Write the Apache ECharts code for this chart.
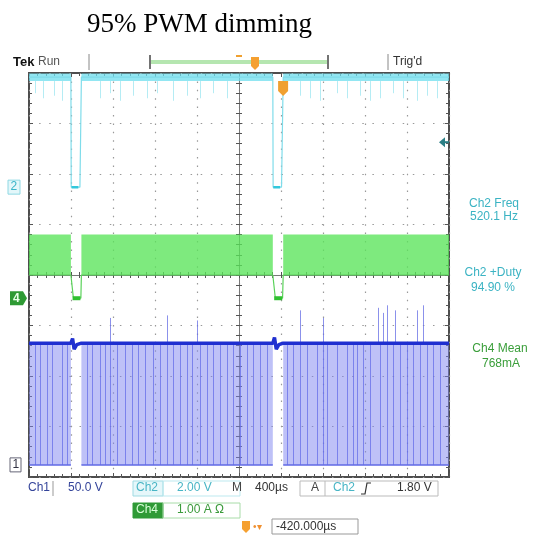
<!DOCTYPE html>
<html><head><meta charset="utf-8">
<script src="https://cdn.jsdelivr.net/npm/echarts@6/dist/echarts.min.js"></script>
<style>html,body{margin:0;padding:0;background:#fff}#c{width:536px;height:535px}</style>
</head><body><div id="c"></div>
<script>
// ---------- data (time in µs from screen centre, levels in divisions) ----------
const xRange = [-2000, 2000];          // 10 div x 400 µs
const yRange = [-4, 4];                // 8 divisions
const onIntervals = [[-2000, -1601], [-1501, 322], [421, 2000]]; // PWM on (gaps = off time)

// Ch2 (cyan) gate signal
const ch2Levels = [3.99, 3.84];        // top band
const ch2Trace = [[-2000,3.92],[-1601,3.92],[-1598,1.74],[-1515,1.74],[-1501,3.92],[322,3.92],[325,1.74],[405,1.74],[421,3.92],[2000,3.92]];
const ch2LowSegments = [[-1595,-1530],[326,392]];
const ch2StreakTimes = [-1943,-1860,-1760,-1680,-1324,-1229,-1133,-1010,-876,-781,-629,-495,-371,-248,-114,581,676,771,933,1029,1152,1248,1343,1467,1562,1695,1790,1886];
const ch2StreakBottoms = [3.6,3.5,3.55,3.45,3.5,3.6,3.45,3.55,3.5,3.6,3.45,3.55,3.5,3.6,3.5,3.55,3.5,3.45,3.6,3.5,3.55,3.45,3.5,3.6,3.5,3.45,3.55,3.5];

// Ch4 (green) current
const ch4Levels = [0.80, 0.0];
const ch4Trace = [[-2000,0],[-1601,0],[-1578,-0.44],[-1506,-0.46],[-1501,0],[322,0],[345,-0.44],[415,-0.46],[421,0],[2000,0]];
const ch4LowSegments = [[-1585,-1510],[335,412]];

// Ch1 (blue) switching node
const ch1Levels = [-1.35, -3.76];
const ch1Trace = [[-2000,-1.35],[-1601,-1.35],[-1585,-1.26],[-1570,-1.47],[-1545,-1.38],[-1501,-1.35],[322,-1.35],[338,-1.24],[355,-1.47],[380,-1.38],[421,-1.35],[2000,-1.35]];
const ch1Edges = [-1943,-1895,-1829,-1781,-1686,-1638,-1448,-1400,-1324,-1276,-1229,-1162,-1086,-1019,-962,-895,-819,-752,-686,-629,-562,-495,-448,-371,-305,-248,-181,-114,-57,10,76,133,200,267,457,514,581,648,743,800,838,933,1029,1086,1124,1181,1248,1343,1410,1467,1533,1600,1657,1724,1790,1848,1914];
const ch1SpikeTimes = [-1229,-686,-400,581,800,1324,1371,1410,1486,1695,1752];
const ch1SpikeTops  = [-0.85,-0.8,-0.9,-0.7,-0.85,-0.65,-0.75,-0.6,-0.7,-0.7,-0.6];

// markers
const trigTime = 420, trigLevel = 2.63;
const groundLevels = {ch2: 1.74, ch4: -0.46, ch1: -3.76};

// readouts
const measLabels = [['Ch2 Freq','520.1 Hz'],['Ch2 +Duty','94.90 %'],['Ch4 Mean','768mA']];

// ---------- chart ----------
const chart = echarts.init(document.getElementById('c'), null, {renderer:'canvas'});
const FONT = '"Liberation Sans", Arial, sans-serif';

function axis(extra, isX) {
  const base = {type:'value', min: isX ? xRange[0] : yRange[0], max: isX ? xRange[1] : yRange[1],
    interval: isX ? 400 : 1, axisLabel:{show:false}, splitLine:{show:false},
    axisLine:{show:false, onZero:false},
    axisTick:{show:true, inside:true, length:4, lineStyle:{color:'#555'}},
    minorTick:{show:true, splitNumber:5, length:3, lineStyle:{color:'#555'}}};
  return Object.assign(base, extra);
}
const xAxes = [
  axis({position:'bottom', splitLine:{show:true, lineStyle:{color:'#999', width:1.2, type:[1.5,6.9]}}}, true),
  axis({position:'top'}, true),
  axis({position:'bottom', axisLine:{show:true, onZero:true, lineStyle:{color:'#777', width:1}}, axisTick:{show:true, inside:true, length:3, lineStyle:{color:'#555'}}}, true),
  axis({position:'top', axisLine:{show:true, onZero:true, lineStyle:{color:'#777', width:1}}, axisTick:{show:true, inside:true, length:3, lineStyle:{color:'#555'}}}, true)
];
const yAxes = [
  axis({position:'left', splitLine:{show:true, lineStyle:{color:'#999', width:1.2, type:[1.5,8.6]}}}, false),
  axis({position:'right'}, false),
  axis({position:'left', axisLine:{show:true, onZero:true, lineStyle:{color:'#777', width:1}}, axisTick:{show:true, inside:true, length:3, lineStyle:{color:'#555'}}}, false),
  axis({position:'right', axisLine:{show:true, onZero:true, lineStyle:{color:'#777', width:1}}, axisTick:{show:true, inside:true, length:3, lineStyle:{color:'#555'}}}, false)
];

const series = [];
function lineS(data, color, width, z, extra) {
  series.push(Object.assign({type:'line', xAxisIndex:0, yAxisIndex:0, data, symbol:'none', showSymbol:false,
    silent:true, animation:false, z, lineStyle:{color, width}}, extra||{}));
}
function bandS(top, bottom, fill, z) {
  onIntervals.forEach(iv => {
    lineS([[iv[0], top], [iv[1], top]], fill, 0, z, {areaStyle:{color:fill, origin:bottom, opacity:1}});
  });
}
function vlines(times, lows, highs, color, width, z) {
  series.push({type:'lines', coordinateSystem:'cartesian2d', xAxisIndex:0, yAxisIndex:0, silent:true, animation:false, z,
    lineStyle:{color, width, opacity:1},
    data: times.map((t,i) => ({coords:[[t, Array.isArray(lows)?lows[i]:lows],[t, Array.isArray(highs)?highs[i]:highs]]}))});
}

// Ch1 blue
bandS(ch1Levels[0], ch1Levels[1], 'rgba(125,132,240,0.5)', 2);
vlines(ch1Edges, ch1Levels[1], ch1Levels[0], 'rgba(100,108,232,0.75)', 1, 3);
vlines(ch1SpikeTimes, ch1Levels[0], ch1SpikeTops, 'rgba(110,118,230,0.8)', 1, 3);
onIntervals.forEach(iv => lineS([[iv[0], ch1Levels[1]], [iv[1], ch1Levels[1]]], '#5f68e4', 1.5, 4));
lineS(ch1Trace, '#1f2fd0', 3.5, 5);

// Ch4 green
bandS(ch4Levels[0], ch4Levels[1], 'rgba(90,228,90,0.78)', 2);
lineS(ch4Trace, '#5ad25a', 1.2, 5);
ch4LowSegments.forEach(s => lineS([[s[0], groundLevels.ch4], [s[1], groundLevels.ch4]], '#30c030', 4, 6));

// Ch2 cyan
vlines(ch2StreakTimes, ch2StreakBottoms, ch2Levels[1], 'rgba(120,220,235,0.55)', 1, 3);
bandS(ch2Levels[0], ch2Levels[1], 'rgba(110,222,238,0.75)', 4);
lineS(ch2Trace, '#7fdcea', 1.2, 5);
ch2LowSegments.forEach(s => lineS([[s[0], groundLevels.ch2], [s[1], groundLevels.ch2]], '#33c8dc', 2.5, 6));

chart.setOption({
  animation:false,
  backgroundColor:'#fff',
  grid:{left:29, top:73, width:420, height:404, show:true, borderColor:'#4d4d4d', borderWidth:2, backgroundColor:'#fff'},
  xAxis: xAxes,
  yAxis: yAxes,
  series
});

// ---------- annotations ----------
const g = [];
function T(text, x, y, color, size, extra) {
  g.push({type:'text', silent:true, z:100, style:Object.assign({text, x, y, fill:color,
    font:(size||12)+'px '+FONT, verticalAlign:'middle', align:'left'}, extra||{})});
}
function L(x1,y1,x2,y2,color,w){ g.push({type:'line', silent:true, z:100, shape:{x1,y1,x2,y2}, style:{stroke:color, lineWidth:w||1}}); }
function R(x,y,w,h,fill,stroke){ g.push({type:'rect', silent:true, z:99, shape:{x,y,width:w,height:h}, style:{fill:fill||'none', stroke:stroke||'none', lineWidth:1}}); }
function P(points, fill){ g.push({type:'polygon', silent:true, z:100, shape:{points}, style:{fill}}); }
function PL(points, color, w){ g.push({type:'polyline', silent:true, z:100, shape:{points}, style:{stroke:color, lineWidth:w||1, fill:'none'}}); }
const px = (t, v) => chart.convertToPixel({gridIndex:0}, [t, v]);

// title
T('95% PWM dimming', 87, 25, '#000', 27, {font:'27px "Liberation Serif", "Times New Roman", serif'});

// top status bar
T('Tek', 13, 62, '#111', 13, {font:'bold 13px '+FONT});
T('Run', 38, 62, '#555', 12);
L(89,54,89,70,'#888');
L(150,55,150,69,'#444',1.5);
R(151,60,176,4,'#b5e6b0');
L(328,55,328,69,'#444',1.5);
L(236,56,242,56,'#f0a030',2);
P([[251,57],[259,57],[259,66],[255,70],[251,66]], '#f5a030');
L(388,54,388,70,'#888');
T("Trig'd", 393, 62, '#333', 12);

// channel ground markers
let p = px(0, groundLevels.ch2);
R(8, p[1]-7, 12, 14, '#e3f7fa', '#8fd8e3'); T('2', 10.5, p[1], '#39b5c8', 12);
p = px(0, groundLevels.ch4);
P([[10,p[1]-7],[23,p[1]-7],[27,p[1]],[23,p[1]+7],[10,p[1]+7]], '#2e9a34'); T('4', 13, p[1], '#e8ffe8', 12, {font:'bold 12px '+FONT});
p = px(0, groundLevels.ch1);
R(10, p[1]-7, 11, 14, '#fff', '#667'); T('1', 12.5, p[1], '#334', 12);

// trigger position & level
p = px(trigTime, 4);
P([[p[0]-5,p[1]+8],[p[0]+5,p[1]+8],[p[0]+5,p[1]+18],[p[0],p[1]+23],[p[0]-5,p[1]+18]], '#f0a030');
p = px(xRange[1], trigLevel);
P([[p[0]-10,p[1]],[p[0]-4,p[1]-5],[p[0]-4,p[1]+5]], '#2b7f86');
L(p[0]-5,p[1],p[0],p[1],'#2b7f86',2);

// measurement readouts
T(measLabels[0][0], 494, 204, '#3bb3c3', 12, {align:'center'});
T(measLabels[0][1], 494, 217, '#3bb3c3', 12, {align:'center'});
T(measLabels[1][0], 493, 273, '#3bb3c3', 12, {align:'center'});
T(measLabels[1][1], 493, 288, '#3bb3c3', 12, {align:'center'});
T(measLabels[2][0], 500, 349, '#3a9e3a', 12, {align:'center'});
T(measLabels[2][1], 501, 364, '#3a9e3a', 12, {align:'center'});

// bottom readouts
T('Ch1', 28, 488, '#34449a', 12);
L(53,481,53,496,'#999');
T('50.0 V', 68, 488, '#34449a', 12);
R(133,481,30,15,'#e6f7fa','#9fdbe3'); T('Ch2', 136, 488, '#48b5c5', 12);
R(163,481,77,15,'none','#bde9ef'); T('2.00 V', 177, 488, '#48b5c5', 12);
T('M', 232, 488, '#444', 12); T('400µs', 255, 488, '#333', 12);
R(300,481,138,15,'none','#bbb'); L(325,481,325,496,'#bbb');
T('A', 311, 488, '#444', 12);
T('Ch2', 333, 488, '#48b5c5', 12);
PL([[361,494],[365,494],[367,483],[371,483]], '#333', 1.2);
T('1.80 V', 397, 488, '#333', 12);
R(133,503,30,15,'#2f9a36','#2f9a36'); T('Ch4', 136, 510, '#d8ffd8', 12);
R(163,503,77,15,'none','#a8dca8'); T('1.00 A Ω', 177, 510, '#3a9a3a', 12);
P([[242,521],[250,521],[250,529],[246,533],[242,529]], '#f5a030');
T('•▾', 253, 527, '#f09030', 10);
R(272,519,86,15,'none','#999'); T('-420.000µs', 276, 527, '#333', 12);

chart.setOption({graphic: g});
</script></body></html>
